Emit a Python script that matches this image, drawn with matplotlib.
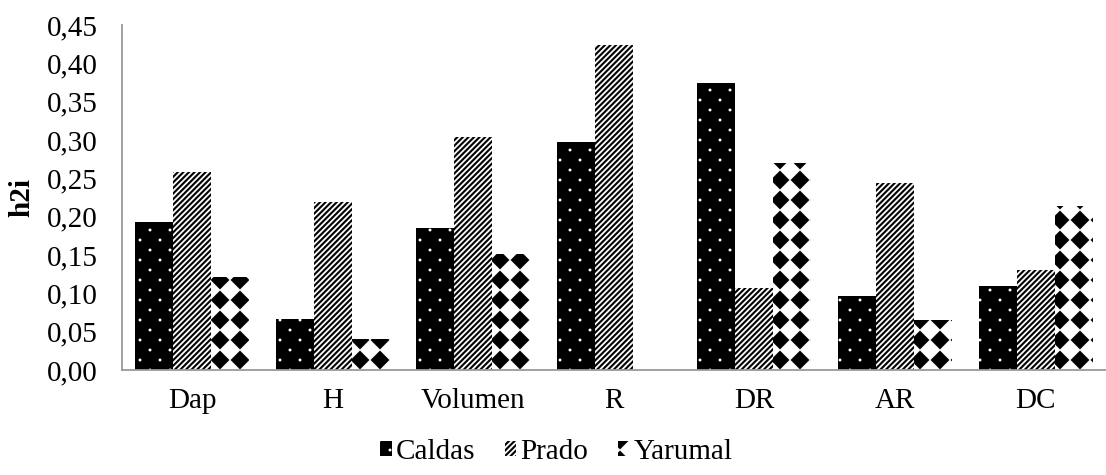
import warnings
import matplotlib
matplotlib.use("Agg")
import matplotlib.pyplot as plt
from matplotlib import hatch as mhatch
from matplotlib.path import Path
import numpy as np

warnings.filterwarnings("ignore")

categories = ["Dap", "H", "Volumen", "R", "DR", "AR", "DC"]
caldas = [0.193, 0.067, 0.185, 0.297, 0.374, 0.096, 0.110]
prado = [0.258, 0.219, 0.304, 0.424, 0.107, 0.244, 0.130]
yarumal = [0.122, 0.041, 0.151, 0.0, 0.270, 0.065, 0.214]
series_names = ["Caldas", "Prado", "Yarumal"]
yticks = [0.00, 0.05, 0.10, 0.15, 0.20, 0.25, 0.30, 0.35, 0.40, 0.45]


# ---- custom fill patterns (style only) ----
class _PolyHatch(mhatch.HatchPatternBase):
    char = None

    def __init__(self, hatch, density):
        self.polys = self.make_polys() if (self.char in hatch) else []
        self.num_vertices = sum(len(p) + 1 for p in self.polys)

    def make_polys(self):
        return []

    def set_vertices_and_codes(self, vertices, codes):
        c = 0
        for p in self.polys:
            n = len(p)
            vertices[c:c + n] = p
            vertices[c + n] = p[0]
            codes[c] = Path.MOVETO
            codes[c + 1:c + n] = Path.LINETO
            codes[c + n] = Path.CLOSEPOLY
            c += n + 1


class DiamondGrid(_PolyHatch):
    char = "d"

    def make_polys(self):
        n, a = 5, 0.094
        out = []
        for i in range(n + 1):
            for j in range(n + 1):
                cx, cy = i / n, j / n
                out.append(np.array([[cx - a, cy], [cx, cy - a], [cx + a, cy], [cx, cy + a]]))
        return out


class DotGrid(_PolyHatch):
    char = "p"

    def make_polys(self):
        n, r = 5, 0.015
        ang = np.linspace(0, 2 * np.pi, 8, endpoint=False)
        circ = np.column_stack([np.cos(ang), np.sin(ang)]) * r
        out = []
        for j in range(2 * n + 1):
            y = j / (2 * n)
            xs = [i / n for i in range(n + 1)] if j % 2 == 0 else [(i + 0.5) / n for i in range(n)]
            for xx in xs:
                out.append(circ + [xx, y])
        return out


class StripeGrid(_PolyHatch):
    char = "s"

    def make_polys(self):
        m = 18
        hw = 0.26 / m
        out = []
        for k in range(-m - 1, m + 2):
            c = k / m
            x0, x1 = -0.2, 1.2
            out.append(np.array([[x0, x0 - c - hw], [x1, x1 - c - hw],
                                 [x1, x1 - c + hw], [x0, x0 - c + hw]]))
        return out


mhatch._hatch_types.extend([DiamondGrid, DotGrid, StripeGrid])

plt.rcParams['font.family'] = ['Liberation Serif', 'DejaVu Serif']
plt.rcParams['hatch.linewidth'] = 0.05

fig = plt.figure(figsize=(11.06, 4.75), dpi=100)
ax = fig.add_axes([0.110, 0.221, 0.890, 0.726])

x = np.arange(len(categories))
w = 0.27
styles = [
    dict(facecolor="black", edgecolor="white", hatch="p", linewidth=0),
    dict(facecolor="white", edgecolor="black", hatch="s", linewidth=0),
    dict(facecolor="white", edgecolor="black", hatch="d", linewidth=0),
]
data = [caldas, prado, yarumal]
for i, (vals, name, st) in enumerate(zip(data, series_names, styles)):
    ax.bar(x + (i - 1) * w, vals, width=w, label=name, **st)

ax.set_xlim(-0.5, len(categories) - 0.5)
ax.set_ylim(0, 0.45)
ax.set_yticks(yticks)
ax.set_yticklabels([f"{v:.2f}".replace(".", ",") for v in yticks])
ax.set_xticks(x)
ax.set_xticklabels(categories)
ax.tick_params(axis="x", length=0, labelsize=21, pad=13)
ax.tick_params(axis="y", length=0, labelsize=21, pad=17)
for s in ["top", "right"]:
    ax.spines[s].set_visible(False)
for s in ["left", "bottom"]:
    ax.spines[s].set_color("#9a9a9a")
    ax.spines[s].set_linewidth(1.3)
ax.set_ylabel("h2i", fontsize=21, fontweight="bold")
ax.yaxis.set_label_coords(-0.088, 0.5)

fig.legend(loc="center", bbox_to_anchor=(0.503, 0.048), ncol=3, frameon=False,
           fontsize=21, handlelength=0.4, handleheight=0.4, handletextpad=0.15,
           columnspacing=1.0, borderpad=0.1)

fig.savefig("out.png", dpi=100)
